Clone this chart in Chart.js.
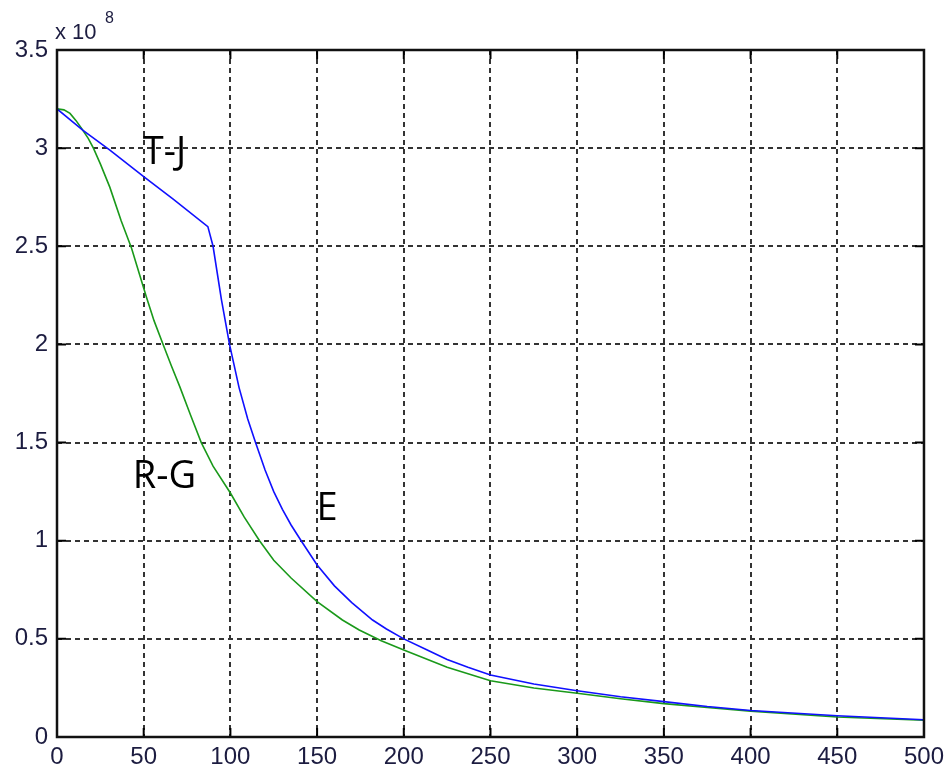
<!DOCTYPE html>
<html lang="en">
<head>
  <meta charset="UTF-8" />
  <title>T-J / R-G / E curves</title>
  <script src="https://cdn.jsdelivr.net/npm/chart.js"></script>
  <style>
    html, body { margin: 0; background: #fff; }
    #wrap { width: 950px; height: 771px; position: relative; }
  </style>
</head>
<body>
<div id="wrap"><canvas id="c"></canvas></div>
<script>
  // values in units of 1e8
  const blueX = [0, 15, 30.5, 50, 67, 87, 90, 94.8, 99.5, 105, 110, 114.5, 120, 125, 130, 135, 140.8, 150, 160, 170, 182, 190, 200, 212, 225, 237, 250, 275, 300, 325, 350, 375, 400, 450, 500];
  const blueY = [3.2, 3.09, 2.99, 2.855, 2.74, 2.6, 2.5, 2.23, 2.0, 1.78, 1.62, 1.5, 1.36, 1.25, 1.16, 1.08, 1.0, 0.876, 0.77, 0.685, 0.596, 0.55, 0.5, 0.45, 0.395, 0.355, 0.316, 0.27, 0.236, 0.205, 0.18, 0.155, 0.135, 0.108, 0.088];
  const greenX = [0, 4, 7.5, 11, 15, 18, 21, 25, 30.5, 37, 43, 51.6, 56, 61.2, 66, 70.8, 77, 83.2, 90, 100, 108, 116.8, 125, 135, 150, 164.6, 174.3, 187, 200, 225, 250, 275, 300, 325, 350, 375, 400, 450, 500];
  const greenY = [3.2, 3.195, 3.177, 3.14, 3.09, 3.05, 3.0, 2.92, 2.8, 2.63, 2.49, 2.24, 2.12, 2.0, 1.89, 1.785, 1.64, 1.5, 1.38, 1.243, 1.12, 1.0, 0.9, 0.81, 0.69, 0.596, 0.545, 0.49, 0.443, 0.355, 0.287, 0.25, 0.223, 0.195, 0.17, 0.15, 0.132, 0.102, 0.085];

  const labelTexts = ['T-J', 'R-G', 'E'];
  const labelX = [49.5, 43.7, 149.6];
  const labelY = [2.92, 1.27, 1.105];

  const pts = (xs, ys) => xs.map((x, i) => ({ x: x, y: ys[i] }));

  const tickFont = { family: '"Liberation Sans", Arial, sans-serif', size: 24 };
  const tickColor = '#1c1c40';

  const frame = {
    id: 'frame',
    afterDraw(chart) {
      const ctx = chart.ctx, a = chart.chartArea;
      const xs = chart.scales.x, ys = chart.scales.y;
      ctx.save();
      ctx.strokeStyle = '#000';
      ctx.lineWidth = 2;
      const tl = 9;
      ctx.beginPath();
      for (let v = 0; v <= 500; v += 50) {
        const px = xs.getPixelForValue(v);
        ctx.moveTo(px, a.bottom); ctx.lineTo(px, a.bottom - tl);
        ctx.moveTo(px, a.top); ctx.lineTo(px, a.top + tl);
      }
      for (let v = 0; v <= 3.5; v += 0.5) {
        const py = ys.getPixelForValue(v);
        ctx.moveTo(a.left, py); ctx.lineTo(a.left + tl, py);
        ctx.moveTo(a.right, py); ctx.lineTo(a.right - tl, py);
      }
      ctx.stroke();
      ctx.lineWidth = 2.5;
      ctx.strokeStyle = '#111';
      ctx.strokeRect(a.left, a.top, a.right - a.left, a.bottom - a.top);

      // exponent label
      ctx.fillStyle = tickColor;
      ctx.textBaseline = 'alphabetic';
      ctx.textAlign = 'left';
      ctx.font = '22px "Liberation Sans", Arial, sans-serif';
      ctx.fillText('x 10', 55, 39);
      ctx.font = '16px "Liberation Sans", Arial, sans-serif';
      ctx.fillText('8', 105, 23);

      // curve annotations
      ctx.fillStyle = '#000';
      ctx.font = '38px "Open Sans", sans-serif';
      labelTexts.forEach((t, i) => {
        ctx.fillText(t, xs.getPixelForValue(labelX[i]), ys.getPixelForValue(labelY[i]));
      });
      ctx.restore();
    }
  };

  new Chart(document.getElementById('c'), {
    type: 'line',
    data: {
      datasets: [
        { label: 'E', data: pts(blueX, blueY), borderColor: '#1010ff', borderWidth: 1.6,
          pointRadius: 0, tension: 0, fill: false },
        { label: 'R-G', data: pts(greenX, greenY), borderColor: '#1a991a', borderWidth: 1.6,
          pointRadius: 0, tension: 0, fill: false }
      ]
    },
    options: {
      responsive: true,
      maintainAspectRatio: false,
      animation: false,
      layout: { padding: { top: 50, right: 24, left: 0, bottom: 0 } },
      plugins: { legend: { display: false }, tooltip: { enabled: false } },
      scales: {
        x: {
          type: 'linear', min: 0, max: 500,
          ticks: { stepSize: 50, color: tickColor, font: tickFont, padding: 6, maxRotation: 0 },
          grid: { color: '#333', lineWidth: 2, drawTicks: false },
          border: { display: false, dash: [5, 4] },
          afterFit(s) { s.height = 34; }
        },
        y: {
          min: 0, max: 3.5,
          ticks: { stepSize: 0.5, color: tickColor, font: tickFont, padding: 9,
                   callback: v => String(Number(v.toFixed(1))) },
          grid: { color: '#333', lineWidth: 2, drawTicks: false },
          border: { display: false, dash: [5, 4] },
          afterFit(s) { s.width = 57; }
        }
      }
    },
    plugins: [frame]
  });
</script>
</body>
</html>
